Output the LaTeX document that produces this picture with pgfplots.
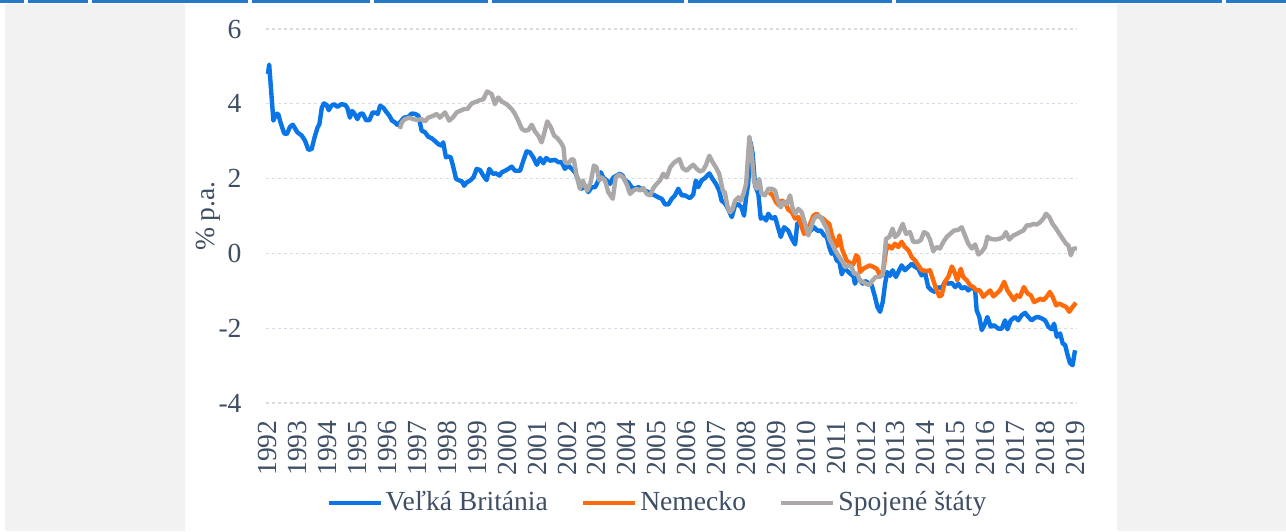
\documentclass[border=0pt]{standalone}
\usepackage{fontspec}
\setmainfont{Liberation Serif}
\usepackage{pgfplots}
\pgfplotsset{compat=1.18}
\definecolor{txt}{RGB}{62,78,100}
\definecolor{ukblue}{RGB}{10,117,230}
\definecolor{deorange}{RGB}{255,107,10}
\definecolor{usgray}{RGB}{172,168,168}
\definecolor{bggray}{RGB}{242,242,242}
\definecolor{topblue}{RGB}{36,122,200}
\definecolor{gridc}{RGB}{216,219,228}
\begin{document}
\begin{tikzpicture}
\path[use as bounding box] (0pt,0pt) rectangle (643pt,265.5pt);
\fill[white] (0pt,0pt) rectangle (643pt,265.5pt);
\fill[bggray] (2.5pt,0pt) rectangle (92.5pt,263.5pt);
\fill[bggray] (558.5pt,0pt) rectangle (643pt,263.5pt);
\fill[topblue] (0pt,264pt) rectangle (643pt,265.5pt);
\fill[white] (12.2pt,264pt) rectangle (13.8pt,265.5pt);
\fill[white] (44.2pt,264pt) rectangle (45.8pt,265.5pt);
\fill[white] (124.2pt,264pt) rectangle (125.8pt,265.5pt);
\fill[white] (185.2pt,264pt) rectangle (186.8pt,265.5pt);
\fill[white] (244.2pt,264pt) rectangle (245.8pt,265.5pt);
\fill[white] (342.2pt,264pt) rectangle (343.8pt,265.5pt);
\fill[white] (446.2pt,264pt) rectangle (447.8pt,265.5pt);
\fill[white] (611.2pt,264pt) rectangle (612.8pt,265.5pt);
\begin{axis}[
  at={(132.95pt,64pt)}, anchor=south west,
  scale only axis, width=405.75pt, height=187pt,
  xmin=1991.93, xmax=2019.07, ymin=-4, ymax=6,
  axis line style={draw=none},
  major tick length=0pt,
  tick style={draw=none},
  xtick={1992,1993,1994,1995,1996,1997,1998,1999,2000,2001,2002,2003,2004,2005,2006,2007,2008,2009,2010,2011,2012,2013,2014,2015,2016,2017,2018,2019},
  xticklabels={1992,1993,1994,1995,1996,1997,1998,1999,2000,2001,2002,2003,2004,2005,2006,2007,2008,2009,2010,2011,2012,2013,2014,2015,2016,2017,2018,2019},
  ytick={-4,-2,0,2,4,6},
  yticklabels={-4,-2,0,2,4,6},
  xticklabel shift=8.5pt,
  yticklabel shift=12pt,
  xticklabel style={rotate=90, anchor=east, inner sep=0pt, font=\fontsize{13.8}{16}\selectfont, text=txt},
  yticklabel style={anchor=east, inner sep=0pt, font=\fontsize{13.8}{16}\selectfont, text=txt},
  ymajorgrids,
  grid style={gridc, dash pattern=on 1.5pt off 1.5pt, line width=0.6pt},
  ylabel={\% p.a.},
  ylabel style={at={(axis description cs:-0.0715,0.5)}, anchor=center, font=\fontsize{13.8}{16}\selectfont, text=txt},
  legend columns=3,
  legend cell align=left,
  legend image code/.code={\draw[#1] (0pt,0pt) -- (26pt,0pt);},
  legend style={at={(axis description cs:0.483,-0.267)}, anchor=center, draw=none, fill=none,
    font=\fontsize{13.8}{16}\selectfont, text=txt,
    nodes={inner sep=1.5pt},
    /tikz/every even column/.append style={column sep=15pt}},
  every axis plot/.append style={line width=2.2pt, line join=round, mark=none},
]
\addplot[ukblue] coordinates {
(1992.00,4.80)(1992.04,5.05)(1992.18,3.55)(1992.27,3.73)(1992.34,3.73)(1992.42,3.50)
(1992.54,3.21)(1992.63,3.19)(1992.74,3.39)(1992.83,3.44)(1992.90,3.35)(1992.98,3.24)
(1993.13,3.15)(1993.24,3.01)(1993.35,2.77)(1993.46,2.79)(1993.55,3.08)(1993.65,3.35)
(1993.72,3.46)(1993.80,3.90)(1993.87,4.01)(1993.96,3.97)(1994.03,3.83)(1994.12,3.95)
(1994.21,3.99)(1994.32,3.92)(1994.46,3.99)(1994.58,3.97)(1994.65,3.90)(1994.74,3.63)
(1994.81,3.81)(1994.89,3.74)(1994.99,3.59)(1995.08,3.73)(1995.17,3.74)(1995.28,3.56)
(1995.39,3.56)(1995.50,3.77)(1995.61,3.76)(1995.67,3.73)(1995.75,3.95)(1995.86,3.89)
(1995.97,3.77)(1996.06,3.68)(1996.15,3.55)(1996.25,3.50)(1996.32,3.44)(1996.41,3.50)
(1996.55,3.63)(1996.69,3.65)(1996.81,3.74)(1996.92,3.73)(1997.03,3.68)(1997.08,3.50)
(1997.14,3.28)(1997.25,3.24)(1997.36,3.12)(1997.47,3.08)(1997.59,3.00)(1997.70,2.92)
(1997.81,2.88)(1997.86,2.97)(1997.95,2.57)(1998.03,2.59)(1998.11,2.57)(1998.20,2.30)
(1998.29,1.99)(1998.40,1.95)(1998.48,1.93)(1998.56,1.81)(1998.65,1.90)(1998.76,1.95)
(1998.87,2.03)(1998.98,2.26)(1999.09,2.23)(1999.20,2.08)(1999.31,1.96)(1999.40,2.26)
(1999.52,2.13)(1999.63,2.14)(1999.74,2.08)(1999.82,2.17)(1999.93,2.21)(2000.04,2.26)
(2000.15,2.32)(2000.26,2.21)(2000.43,2.21)(2000.54,2.48)(2000.65,2.73)(2000.76,2.70)
(2000.87,2.57)(2000.99,2.37)(2001.10,2.55)(2001.21,2.41)(2001.30,2.55)(2001.43,2.48)
(2001.60,2.50)(2001.71,2.44)(2001.82,2.44)(2001.93,2.26)(2002.04,2.35)(2002.16,2.26)
(2002.27,2.17)(2002.38,1.95)(2002.49,1.73)(2002.60,1.81)(2002.71,1.64)(2002.83,1.77)
(2002.94,1.77)(2003.05,1.95)(2003.13,2.17)(2003.21,2.03)(2003.33,1.95)(2003.44,1.86)
(2003.55,2.03)(2003.66,2.08)(2003.77,2.13)(2003.86,2.08)(2003.94,1.95)(2004.05,1.90)
(2004.16,1.77)(2004.27,1.73)(2004.38,1.77)(2004.50,1.73)(2004.61,1.68)(2004.72,1.64)
(2004.83,1.59)(2004.94,1.55)(2005.05,1.50)(2005.17,1.46)(2005.28,1.31)(2005.39,1.31)
(2005.50,1.46)(2005.61,1.55)(2005.72,1.73)(2005.84,1.55)(2005.95,1.55)(2006.06,1.50)
(2006.11,1.48)(2006.22,1.57)(2006.31,1.95)(2006.39,1.77)(2006.50,1.95)(2006.62,2.02)
(2006.76,2.14)(2006.87,1.99)(2006.98,1.86)(2007.09,1.68)(2007.17,1.41)(2007.28,1.34)
(2007.39,1.19)(2007.51,0.97)(2007.62,1.28)(2007.73,1.32)(2007.84,1.22)(2007.92,1.01)
(2007.99,1.50)(2008.06,1.86)(2008.14,2.97)(2008.21,2.66)(2008.29,1.81)(2008.40,1.59)
(2008.48,0.93)(2008.57,0.97)(2008.66,0.88)(2008.73,1.06)(2008.85,0.93)(2008.96,0.97)
(2009.07,0.66)(2009.15,0.44)(2009.26,0.70)(2009.40,0.61)(2009.52,0.39)(2009.63,0.24)
(2009.70,0.79)(2009.82,0.88)(2009.93,0.66)(2010.04,0.52)(2010.15,0.61)(2010.26,0.70)
(2010.37,0.61)(2010.49,0.61)(2010.60,0.48)(2010.69,0.44)(2010.77,0.17)(2010.85,-0.01)
(2010.93,0.04)(2011.02,-0.19)(2011.11,-0.23)(2011.19,-0.56)(2011.26,-0.41)(2011.35,-0.45)
(2011.47,-0.54)(2011.58,-0.61)(2011.63,-0.81)(2011.71,-0.63)(2011.80,-0.72)(2011.89,-0.81)
(2011.97,-0.74)(2012.08,-0.79)(2012.19,-0.85)(2012.30,-1.16)(2012.38,-1.43)(2012.47,-1.56)
(2012.56,-1.30)(2012.64,-0.80)(2012.71,-0.50)(2012.80,-0.60)(2012.89,-0.45)(2013.00,-0.63)
(2013.11,-0.45)(2013.19,-0.32)(2013.30,-0.45)(2013.42,-0.36)(2013.53,-0.28)(2013.64,-0.36)
(2013.75,-0.41)(2013.86,-0.59)(2013.97,-0.50)(2014.08,-0.90)(2014.20,-0.99)(2014.31,-1.03)
(2014.42,-0.90)(2014.53,-0.94)(2014.64,-0.76)(2014.75,-0.81)(2014.87,-0.79)(2014.98,-0.90)
(2015.09,-0.81)(2015.20,-0.94)(2015.31,-0.90)(2015.42,-0.99)(2015.54,-0.90)(2015.65,-0.99)
(2015.70,-1.52)(2015.79,-1.70)(2015.87,-2.05)(2015.98,-1.88)(2016.06,-1.70)(2016.17,-1.96)
(2016.28,-1.92)(2016.42,-2.01)(2016.54,-2.01)(2016.65,-1.79)(2016.73,-2.03)(2016.84,-1.79)
(2016.98,-1.70)(2017.09,-1.79)(2017.21,-1.65)(2017.32,-1.59)(2017.43,-1.70)(2017.54,-1.79)
(2017.65,-1.72)(2017.76,-1.70)(2017.88,-1.74)(2017.99,-1.79)(2018.10,-1.96)(2018.21,-2.03)
(2018.29,-1.88)(2018.38,-2.23)(2018.49,-2.14)(2018.58,-2.41)(2018.66,-2.45)(2018.73,-2.68)
(2018.82,-2.93)(2018.91,-2.99)(2018.99,-2.59)
};
\addlegendentry{Veľká Británia}
\addplot[deorange] coordinates {
(2008.77,1.63)(2008.88,1.55)(2008.99,1.37)(2009.10,1.28)(2009.18,1.41)(2009.29,1.37)
(2009.40,1.17)(2009.52,1.10)(2009.63,0.93)(2009.74,0.97)(2009.85,0.70)(2009.93,0.52)
(2010.02,0.61)(2010.13,0.79)(2010.24,1.01)(2010.35,1.06)(2010.46,0.97)(2010.57,0.93)
(2010.69,0.83)(2010.77,0.79)(2010.85,0.52)(2010.93,0.33)(2011.02,0.19)(2011.11,0.48)
(2011.19,0.13)(2011.26,-0.01)(2011.35,-0.19)(2011.47,-0.26)(2011.58,-0.28)(2011.67,-0.05)
(2011.74,-0.10)(2011.80,-0.50)(2011.91,-0.41)(2012.02,-0.36)(2012.13,-0.32)(2012.24,-0.36)
(2012.36,-0.41)(2012.45,-0.56)(2012.58,-0.45)(2012.67,0.08)(2012.75,0.21)(2012.86,0.13)
(2012.97,0.26)(2013.08,0.17)(2013.19,0.31)(2013.30,0.17)(2013.42,0.08)(2013.53,-0.10)
(2013.64,-0.19)(2013.75,-0.32)(2013.86,-0.45)(2014.03,-0.47)(2014.14,-0.45)(2014.25,-0.72)
(2014.34,-0.94)(2014.45,-1.15)(2014.53,-1.12)(2014.64,-0.76)(2014.75,-0.63)(2014.87,-0.35)
(2014.98,-0.54)(2015.05,-0.72)(2015.17,-0.41)(2015.25,-0.63)(2015.37,-0.72)(2015.48,-0.85)
(2015.59,-0.90)(2015.70,-0.99)(2015.81,-0.99)(2015.92,-1.16)(2016.04,-1.07)(2016.15,-0.99)
(2016.26,-1.15)(2016.37,-1.07)(2016.48,-0.99)(2016.62,-0.76)(2016.73,-0.99)(2016.84,-1.12)
(2016.95,-1.25)(2017.04,-1.12)(2017.15,-1.16)(2017.28,-0.90)(2017.40,-1.07)(2017.51,-1.12)
(2017.62,-1.30)(2017.71,-1.27)(2017.82,-1.21)(2017.93,-1.25)(2018.04,-1.16)(2018.15,-1.03)
(2018.24,-1.16)(2018.36,-1.39)(2018.47,-1.34)(2018.58,-1.39)(2018.69,-1.43)(2018.80,-1.56)
(2018.91,-1.43)(2019.02,-1.32)
};
\addlegendentry{Nemecko}
\addplot[usgray] coordinates {
(1996.41,3.33)(1996.47,3.50)(1996.58,3.59)(1996.73,3.63)(1996.86,3.59)(1996.97,3.57)
(1997.14,3.59)(1997.25,3.53)(1997.36,3.63)(1997.53,3.68)(1997.64,3.73)(1997.75,3.63)
(1997.92,3.77)(1998.06,3.55)(1998.20,3.65)(1998.31,3.77)(1998.42,3.81)(1998.56,3.86)
(1998.67,3.86)(1998.81,4.01)(1998.98,4.06)(1999.09,4.10)(1999.20,4.12)(1999.33,4.33)
(1999.48,4.26)(1999.59,3.99)(1999.70,4.17)(1999.82,4.06)(1999.98,3.99)(2000.15,3.86)
(2000.26,3.73)(2000.37,3.55)(2000.49,3.33)(2000.60,3.28)(2000.71,3.30)(2000.82,3.44)
(2000.93,3.26)(2001.04,3.15)(2001.15,2.97)(2001.23,3.19)(2001.34,3.53)(2001.46,3.37)
(2001.57,3.15)(2001.68,3.08)(2001.79,2.97)(2001.88,2.84)(2001.93,2.44)(2002.04,2.41)
(2002.16,2.52)(2002.23,2.50)(2002.32,2.08)(2002.43,1.73)(2002.53,1.95)(2002.60,1.81)
(2002.68,1.68)(2002.79,1.90)(2002.90,2.35)(2002.99,2.30)(2003.08,1.95)(2003.16,2.03)
(2003.27,1.95)(2003.38,1.64)(2003.53,1.46)(2003.63,2.03)(2003.75,2.11)(2003.88,2.03)
(2004.00,1.84)(2004.11,1.59)(2004.22,1.68)(2004.33,1.73)(2004.44,1.68)(2004.55,1.75)
(2004.67,1.59)(2004.78,1.55)(2004.89,1.75)(2005.00,1.86)(2005.11,1.95)(2005.22,2.13)
(2005.33,2.03)(2005.45,2.30)(2005.56,2.41)(2005.67,2.48)(2005.76,2.52)(2005.87,2.28)
(2006.00,2.21)(2006.11,2.30)(2006.22,2.37)(2006.34,2.26)(2006.45,2.19)(2006.56,2.23)
(2006.65,2.37)(2006.76,2.61)(2006.87,2.44)(2006.98,2.30)(2007.09,2.13)(2007.21,1.68)
(2007.28,1.63)(2007.36,1.28)(2007.45,1.10)(2007.54,1.19)(2007.62,1.41)(2007.73,1.50)
(2007.81,1.41)(2007.90,1.59)(2007.99,1.86)(2008.10,3.12)(2008.18,2.66)(2008.25,1.95)
(2008.34,1.73)(2008.43,1.99)(2008.51,1.59)(2008.62,1.55)(2008.73,1.73)(2008.85,1.73)
(2008.96,1.68)(2009.03,1.46)(2009.15,1.23)(2009.23,1.37)(2009.35,1.32)(2009.46,1.55)
(2009.55,1.19)(2009.63,1.06)(2009.74,1.19)(2009.85,1.10)(2009.96,0.79)(2010.07,0.48)
(2010.16,0.70)(2010.26,0.93)(2010.37,1.01)(2010.49,0.97)(2010.60,0.79)(2010.69,0.66)
(2010.77,0.39)(2010.89,0.21)(2011.00,0.04)(2011.11,-0.10)(2011.22,-0.23)(2011.30,-0.36)
(2011.41,-0.32)(2011.52,-0.36)(2011.60,-0.54)(2011.71,-0.54)(2011.80,-0.74)(2011.89,-0.76)
(2012.00,-0.81)(2012.11,-0.85)(2012.22,-0.72)(2012.33,-0.63)(2012.45,-0.63)(2012.56,-0.58)
(2012.60,-0.19)(2012.67,0.39)(2012.78,0.44)(2012.89,0.66)(2012.97,0.44)(2013.08,0.52)
(2013.23,0.79)(2013.34,0.52)(2013.47,0.57)(2013.58,0.31)(2013.72,0.31)(2013.83,0.35)
(2013.94,0.57)(2014.05,0.52)(2014.14,0.37)(2014.25,0.06)(2014.36,0.17)(2014.47,0.13)
(2014.59,0.31)(2014.70,0.44)(2014.81,0.52)(2014.94,0.61)(2015.09,0.63)(2015.20,0.70)
(2015.31,0.48)(2015.42,0.26)(2015.54,0.13)(2015.65,0.24)(2015.76,-0.03)(2015.87,0.04)
(2015.98,0.17)(2016.06,0.44)(2016.17,0.39)(2016.31,0.37)(2016.46,0.39)(2016.59,0.44)
(2016.68,0.57)(2016.79,0.37)(2016.93,0.48)(2017.04,0.52)(2017.15,0.57)(2017.26,0.61)
(2017.38,0.75)(2017.49,0.75)(2017.60,0.79)(2017.71,0.77)(2017.82,0.83)(2017.93,0.93)
(2018.02,1.06)(2018.13,0.97)(2018.24,0.79)(2018.36,0.66)(2018.47,0.52)(2018.58,0.39)
(2018.69,0.26)(2018.77,0.21)(2018.85,-0.05)(2018.93,0.13)(2019.05,0.13)
};
\addlegendentry{Spojené štáty}
\end{axis}
\end{tikzpicture}
\end{document}
